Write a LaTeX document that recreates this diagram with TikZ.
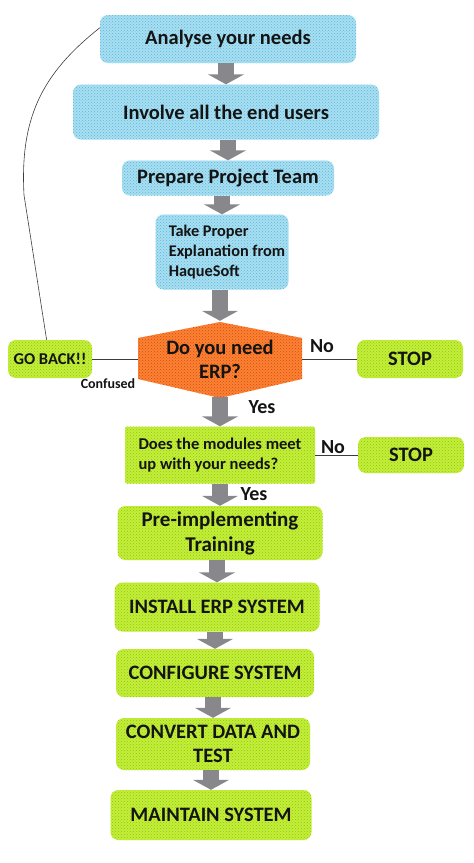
\documentclass[tikz,border=0pt]{standalone}
\usepackage{fontspec}
\setmainfont{Carlito}
\usetikzlibrary{arrows.meta,patterns}
\definecolor{bluefill}{RGB}{170,222,240}
\definecolor{bluedot}{RGB}{80,185,225}
\definecolor{greenfill}{RGB}{196,238,56}
\definecolor{greendot}{RGB}{140,200,25}
\definecolor{orangefill}{RGB}{250,130,50}
\definecolor{orangedot}{RGB}{220,70,20}
\definecolor{arrowgray}{RGB}{135,135,140}
\definecolor{linegray}{RGB}{60,60,60}
\definecolor{txt}{RGB}{20,20,20}
\tikzset{
 box/.style={rounded corners=8pt, inner sep=0pt, align=center, text=txt,
   font=\fontsize{20.5}{25}\selectfont\bfseries},
 bluebox/.style={box, fill=bluefill, postaction={pattern=crosshatch dots, pattern color=bluedot}},
 greenbox/.style={box, fill=greenfill, postaction={pattern=crosshatch dots, pattern color=greendot}},
 flowarrow/.style={draw=arrowgray, line width=16pt, -{Triangle[length=10pt 0, width=36pt 0]}},
 link/.style={draw=linegray, line width=0.8pt},
 lbl/.style={inner sep=0pt, text=txt, font=\fontsize{20}{24}\selectfont\bfseries},
}
\begin{document}
\begin{tikzpicture}[x=1pt,y=-1pt]
\useasboundingbox (0,0) rectangle (474,863);
% hexagon decision shape
\fill[orangefill, postaction={pattern=crosshatch dots, pattern color=orangedot}]
  (220,322) -- (302,338) -- (302,379) -- (220,398) -- (138,379) -- (138,338) -- cycle;
\node[lbl, minimum width=164pt, minimum height=76pt, align=center,
  font=\fontsize{20.5}{24}\selectfont\bfseries] (dia) at (220,359) {Do you need\\ERP?};

\node[bluebox, minimum width=256pt, minimum height=48pt] (an) at (228,39) {Analyse your needs};
\node[bluebox, minimum width=306pt, minimum height=55pt] (inv) at (226,112) {Involve all the end users};
\node[bluebox, minimum width=212pt, minimum height=35pt] (prep) at (228,178) {Prepare Project Team};
\node[bluebox, minimum width=133pt, minimum height=75pt, align=left,
  font=\fontsize{16.3}{20}\selectfont\bfseries] (take) at (222,252)
  {\hspace*{10pt}Take Proper\\\hspace*{10pt}Explanation from\\\hspace*{10pt}HaqueSoft};

\node[greenbox, minimum width=84pt, minimum height=38pt, font=\fontsize{16.5}{20}\selectfont\bfseries] (gb) at (50,359) {GO BACK!!};
\node[greenbox, minimum width=106pt, minimum height=38pt] (stopa) at (410,359) {STOP};
\node[greenbox, rounded corners=2pt, minimum width=190pt, minimum height=57pt, align=left,
  font=\fontsize{16.5}{20}\selectfont\bfseries] (mod) at (220,455) {Does the modules meet\\up with your needs?};
\node[greenbox, minimum width=106pt, minimum height=36pt] (stopb) at (411,455) {STOP};
\node[greenbox, minimum width=205pt, minimum height=54pt, font=\fontsize{21}{25}\selectfont\bfseries] (pre) at (220,533) {Pre-implementing\\Training};
\node[greenbox, minimum width=205pt, minimum height=49pt] (inst) at (217,607) {INSTALL ERP SYSTEM};
\node[greenbox, minimum width=198pt, minimum height=48pt] (conf) at (215,673) {CONFIGURE SYSTEM};
\node[greenbox, minimum width=194pt, minimum height=52pt, font=\fontsize{20.5}{24}\selectfont\bfseries] (conv) at (213,744) {CONVERT DATA AND\\TEST};
\node[greenbox, minimum width=201pt, minimum height=50pt] (maint) at (211,815) {MAINTAIN SYSTEM};

% labels
\node[lbl] (noa) at (322,346) {No};
\node[lbl, font=\fontsize{14}{16}\selectfont\bfseries] (conflbl) at (108,384) {Confused};
\node[lbl] (yesa) at (262,407) {Yes};
\node[lbl] (nob) at (333,447) {No};
\node[lbl] (yesb) at (254,494) {Yes};

% flow arrows
\draw[flowarrow] (inv.north |- an.south) -- (inv.north);
\draw[flowarrow] (prep.north |- inv.south) -- (prep.north);
\draw[flowarrow] (take.north |- prep.south) -- (take.north);
\draw[flowarrow] (dia.north |- take.south) -- (dia.north);
\draw[flowarrow] (mod.north |- dia.south) -- (mod.north);
\draw[flowarrow] (pre.north |- mod.south) -- (pre.north);
\draw[flowarrow] (inst.north |- pre.south) -- (inst.north);
\draw[flowarrow] (conf.north |- inst.south) -- (conf.north);
\draw[flowarrow] (conv.north |- conf.south) -- (conv.north);
\draw[flowarrow] (maint.north |- conv.south) -- (maint.north);

% connectors
\draw[link] (gb.east) -- (dia.west);
\draw[link] (dia.east) -- (stopa.west);
\draw[link] (mod.east) -- (stopb.west);
\draw[link, line width=0.6pt] (gb.100) -- (24,195) .. controls (20,120) and (40,75) .. (an.175);
\end{tikzpicture}
\end{document}
